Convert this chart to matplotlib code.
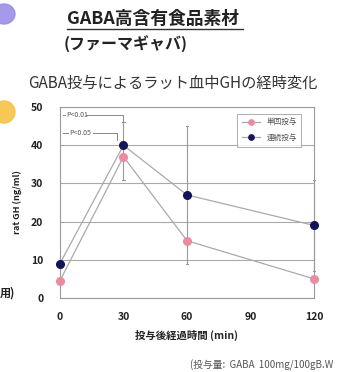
import matplotlib
matplotlib.use("Agg")
import matplotlib.pyplot as plt
from matplotlib.patches import Ellipse

plt.rcParams['font.family'] = ['Noto Sans CJK JP', 'DejaVu Sans']

times = [0, 30, 60, 120]
single_dose = [4.5, 37, 15, 5]
repeat_dose = [9, 40, 27, 19]
err_low = [0, 31, 9, 7]
err_high = [0, 46, 45, 31]
series_labels = ["単回投与", "連続投与"]
x_ticks = [0, 30, 60, 90, 120]
y_ticks = [0, 10, 20, 30, 40, 50]

fig = plt.figure(figsize=(3.61, 3.72), dpi=100)
fig.patch.set_facecolor("white")

# decorative bullets on the slide edge
deco = fig.add_axes([0, 0, 1, 1])
deco.set_xlim(0, 361)
deco.set_ylim(372, 0)
deco.axis("off")
deco.add_patch(Ellipse((4, 14), 22, 20, color="#9a8ee8", alpha=0.9))
deco.add_patch(Ellipse((4, 112), 22, 22, color="#f5c242", alpha=0.9))

fig.text(0.185, 0.948, "GABA高含有食品素材", fontsize=12.8, fontweight="bold",
         color="#222222", ha="left", va="center")
deco.plot([67, 243], [29, 29], color="#333333", lw=1.0)
fig.text(0.175, 0.880, "(ファーマギャバ)", fontsize=11.5, fontweight="bold",
         color="#222222", ha="left", va="center")
fig.text(0.478, 0.776, "GABA投与によるラット血中GHの経時変化", fontsize=11,
         color="#333333", ha="center", va="center")
fig.text(0.0, 0.213, "用)", fontsize=8, fontweight="bold", color="#222222",
         ha="left", va="center")
fig.text(0.525, 0.018, "(投与量:  GABA  100mg/100gB.W", fontsize=7,
         color="#555555", ha="left", va="center")

ax = fig.add_axes([0.166, 0.199, 0.704, 0.513])
ax.set_xlim(0, 120)
ax.set_ylim(0, 50)
ax.set_yticks(y_ticks)
ax.set_xticks(x_ticks)
ax.yaxis.grid(True, color="#aaaaaa", lw=0.8)
ax.set_axisbelow(True)
for s in ax.spines.values():
    s.set_color("#999999")
    s.set_linewidth(0.8)
ax.tick_params(axis="both", length=0, labelsize=7.5, colors="#222222")
ax.tick_params(axis="y", pad=12)
ax.tick_params(axis="x", pad=10)
for lab in ax.get_xticklabels() + ax.get_yticklabels():
    lab.set_fontweight("bold")

# error bars
for t, lo, hi in zip(times, err_low, err_high):
    if hi > lo:
        ax.plot([t, t], [lo, hi], color="#999999", lw=0.8, clip_on=False)
        for v in (lo, hi):
            ax.plot([t - 0.6, t + 0.6], [v, v], color="#999999", lw=0.8, clip_on=False)

ax.plot(times, single_dose, color="#aaaaaa", lw=0.9, marker="o", ms=5.5,
        markerfacecolor="#ec8aa2", markeredgecolor="#ec8aa2",
        label=series_labels[0], clip_on=False, zorder=3)
ax.plot(times, repeat_dose, color="#aaaaaa", lw=0.9, marker="o", ms=5.5,
        markerfacecolor="#14145a", markeredgecolor="#14145a",
        label=series_labels[1], clip_on=False, zorder=4)

# significance brackets
ax.plot([1.5, 2.5], [48, 48], color="#888888", lw=0.7)
ax.plot([12.5, 30, 30], [48, 48, 46], color="#888888", lw=0.7)
ax.text(2.8, 48, "P<0.01", fontsize=5, color="#555555", va="center", ha="left")
ax.plot([1.5, 4], [43.3, 43.3], color="#888888", lw=0.7)
ax.plot([15.5, 27], [43.3, 43.3], color="#888888", lw=0.7)
ax.plot([27, 27], [43.3, 41.5], color="#888888", lw=0.7)
ax.text(4.3, 43.3, "P<0.05", fontsize=5, color="#555555", va="center", ha="left")

leg = ax.legend(loc="upper right", bbox_to_anchor=(0.965, 0.985), fontsize=5.5,
                frameon=True, fancybox=False, edgecolor="#999999", borderpad=0.6,
                handlelength=2.4, labelspacing=1.0, markerscale=0.7)
leg.get_frame().set_linewidth(0.7)
for t in leg.get_texts():
    t.set_color("#555555")

ax.set_ylabel("rat GH (ng/ml)", fontsize=6.5, fontweight="bold", color="#222222",
              labelpad=6)
ax.set_xlabel("投与後経過時間 (min)", fontsize=7.5, fontweight="bold",
              color="#222222", labelpad=6)

fig.savefig("out.png", dpi=100)
